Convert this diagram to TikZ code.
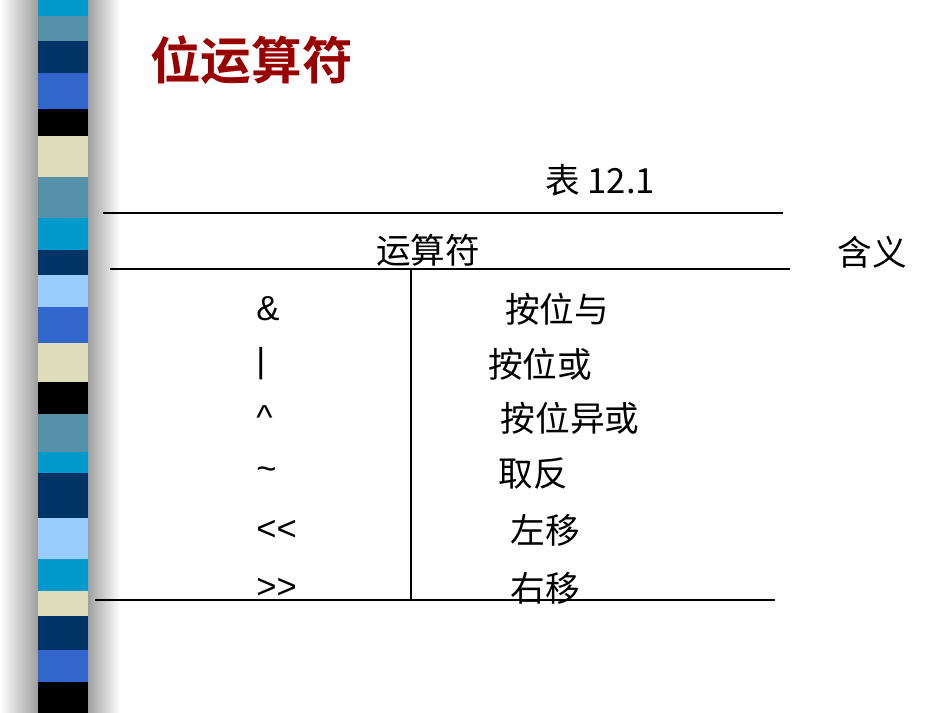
\documentclass[tikz,border=0pt]{standalone}
\usepackage{fontspec}
\setmainfont{Liberation Sans}
\newfontfamily\cjk{Noto Sans CJK SC}
\newfontfamily\cjkb{Noto Sans CJK SC Bold}
\definecolor{cA}{HTML}{0099CC}\definecolor{cB}{HTML}{5592AA}\definecolor{cC}{HTML}{003366}
\definecolor{cD}{HTML}{3366CC}\definecolor{cE}{HTML}{000000}\definecolor{cF}{HTML}{DDDDB9}
\definecolor{cG}{HTML}{99CCFF}\definecolor{titred}{HTML}{990000}
\begin{document}
\begin{tikzpicture}[x=0.75pt,y=-0.75pt,
  txt/.style={font=\cjk\fontsize{26}{30}\selectfont,inner sep=0pt},
  tline/.style={line width=0.8pt}]
\useasboundingbox (0,0) rectangle (950,713);
\fill[white] (0,0) rectangle (950,713);
\shade[left color=white,right color=gray!80] (0,0) rectangle (40,713);
\shade[left color=gray!80,right color=white] (86,0) rectangle (120,713);
\foreach \a/\b/\c in {0/16/cA,16/41/cB,41/73/cC,73/109/cD,109/136/cE,136/177/cF,177/218/cB,218/250/cA,250/275/cC,275/307/cG,307/343/cD,343/382/cF,382/414/cE,414/452/cB,452/473/cA,473/518/cC,518/559/cG,559/591/cA,591/616/cF,616/650/cC,650/682/cD,682/713/cE}
  \fill[\c] (38,\a) rectangle (88,\b);
\node[anchor=west,inner sep=0pt,text=titred,font=\cjkb\fontsize{38}{44}\selectfont] (title) at (150,60) {位运算符};
\node[txt] (cap) at (600,180) {表 \fontsize{26}{30}\selectfont 12.1};
\coordinate (t1) at (103,213); \coordinate (t2) at (783,213);
\coordinate (h1) at (110,269); \coordinate (h2) at (790,269);
\coordinate (b1) at (95,600); \coordinate (b2) at (775,600);
\coordinate (v1) at (411,269); \coordinate (v2) at (411,600);
\draw[tline] (t1)--(t2); \draw[tline] (h1)--(h2); \draw[tline] (b1)--(b2); \draw[tline] (v1)--(v2);
\node[txt] (hA) at (428,250) {运算符};
\node[txt] (hB) at (872,252) {含义};
\foreach \n/\y/\s/\m/\x in {r1/309/\&/按位与/557, r2/364/|/按位或/540, r3/418/\textasciicircum/按位异或/570, r4/474/\textasciitilde/取反/533, r5/530/<{}</左移/545, r6/588/>{}>/右移/545}{
  \node[txt,anchor=west,font=\fontsize{26}{30}\selectfont] (\n a) at (256,\y) {\s};
  \node[txt] (\n b) at (\x,\y) {\m};
}
\end{tikzpicture}
\end{document}
